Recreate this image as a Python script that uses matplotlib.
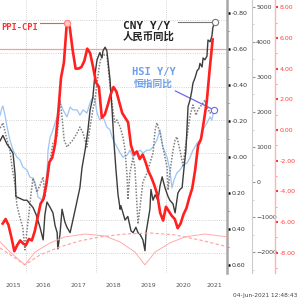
import numpy as np
import matplotlib.pyplot as plt
from matplotlib.ticker import FuncFormatter

plt.rcParams['font.family'] = ['DejaVu Sans', 'Noto Sans CJK SC']

# PPI-CPI spread (pct pts), monthly Apr 2015 - Apr 2021
ppi_dates = 2015 + 4 / 12 + np.arange(73) / 12
ppi_cpi = [-6.1, -5.8, -6.2, -7.0, -7.9, -7.5, -7.2, -7.4, -7.5,
           -7.1, -7.2, -6.6, -5.7, -4.8, -4.5, -3.5, -2.1, -1.8, -0.9, 1.0, 3.4,
           4.4, 7.0, 6.7, 5.2, 4.0, 4.0, 4.1, 4.5, 5.3, 5.0, 4.1, 3.1,
           2.8, 0.8, 1.0, 1.6, 2.3, 2.8, 2.5, 1.8, 1.1, 0.8, 0.5, -1.0,
           -1.6, -1.4, -1.9, -1.6, -2.1, -2.7, -3.1, -3.6, -4.2, -5.4, -5.9, -5.0,
           -5.3, -5.6, -5.8, -6.4, -6.1, -5.5, -5.1, -4.4, -3.8, -2.6, -1.0, -0.6,
           0.6, 1.9, 4.0, 5.9]

# CNY Y/Y (inverted axis)
cny_dates = [2015.26, 2015.34, 2015.46, 2015.54, 2015.63, 2015.69, 2015.71, 2015.83, 2015.94,
             2016.03, 2016.11, 2016.20, 2016.29, 2016.40, 2016.49, 2016.54, 2016.60, 2016.69,
             2016.77, 2016.83, 2016.89, 2016.91, 2016.97, 2017.03, 2017.11, 2017.17, 2017.26,
             2017.34, 2017.43, 2017.54, 2017.60, 2017.69, 2017.77, 2017.83, 2017.91, 2017.97,
             2018.03, 2018.11, 2018.17, 2018.20, 2018.26, 2018.31, 2018.34, 2018.40, 2018.43,
             2018.46, 2018.51, 2018.57, 2018.63, 2018.69, 2018.71, 2018.77, 2018.83, 2018.91,
             2019.00, 2019.06, 2019.14, 2019.20, 2019.26, 2019.34, 2019.40, 2019.43, 2019.49,
             2019.54, 2019.57, 2019.63, 2019.69, 2019.77, 2019.83, 2019.89, 2019.97, 2020.06,
             2020.11, 2020.20, 2020.26, 2020.34, 2020.40, 2020.46, 2020.51, 2020.57, 2020.63,
             2020.69, 2020.74, 2020.77, 2020.83, 2020.89, 2020.94, 2020.97, 2021.03, 2021.06,
             2021.11, 2021.17, 2021.20, 2021.26, 2021.31, 2021.34, 2021.40]
cny_yoy = [-0.09, -0.12, -0.07, -0.05, -0.02, 0.10, 0.22, 0.23, 0.24,
           0.24, 0.26, 0.28, 0.32, 0.39, 0.46, 0.32, 0.25, 0.28,
           0.31, 0.38, 0.42, 0.51, 0.43, 0.29, 0.36, 0.39, 0.42,
           0.35, 0.27, 0.17, 0.06, -0.04, -0.15, -0.26, -0.33, -0.46,
           -0.54, -0.58, -0.55, -0.59, -0.61, -0.59, -0.54, -0.43, -0.34,
           -0.26, -0.09, 0.07, 0.21, 0.29, 0.27, 0.31, 0.35, 0.33,
           0.41, 0.42, 0.39, 0.42, 0.43, 0.46, 0.52, 0.42, 0.35,
           0.29, 0.18, 0.24, 0.21, 0.24, 0.16, 0.11, 0.17, 0.22,
           0.24, 0.26, 0.31, 0.20, 0.18, 0.17, 0.07, -0.04, -0.28,
           -0.32, -0.37, -0.41, -0.44, -0.48, -0.49, -0.52, -0.50, -0.55,
           -0.54, -0.56, -0.65, -0.64, -0.67, -0.72, -0.75]

# HSI Y/Y (light blue)
hsi_dates = [2015.26, 2015.31, 2015.34, 2015.40, 2015.46, 2015.54, 2015.63, 2015.74, 2015.83, 2015.91,
             2016.03, 2016.11, 2016.20, 2016.26, 2016.31, 2016.34, 2016.46, 2016.54, 2016.60, 2016.63,
             2016.69, 2016.74, 2016.77, 2016.83, 2016.89, 2016.91, 2016.97,
             2017.03, 2017.06, 2017.17, 2017.26, 2017.34, 2017.46, 2017.54, 2017.63, 2017.74, 2017.83,
             2017.91, 2017.97,
             2018.03, 2018.11, 2018.20, 2018.31, 2018.40, 2018.49, 2018.60, 2018.69, 2018.77, 2018.89,
             2018.97,
             2019.06, 2019.17, 2019.26, 2019.34, 2019.46, 2019.54, 2019.63, 2019.74, 2019.83, 2019.91,
             2020.03, 2020.11, 2020.17, 2020.23, 2020.31, 2020.40, 2020.49, 2020.60, 2020.69, 2020.77,
             2020.89, 2020.97,
             2021.06, 2021.17, 2021.26, 2021.31, 2021.37]
hsi_yoy = [1910, 2110, 2170, 1910, 1570, 1200, 910, 710, 630, 430,
           340, 140, 110, -30, -230, -430, -510, -230, 260, 910,
           1290, 1400, 1490, 1690, 1860, 2060, 2260,
           2140, 2060, 1860, 2140, 2060, 2060, 1910, 2060, 1970, 2260,
           2430, 2340,
           1970, 1770, 1860, 1570, 1490, 1200, 1000, 830, 710, 770,
           910,
           710, 830, 910, 830, 910, 910, 1000, 1200, 1490, 1000,
           710, 340, -170, 60, 260, 340, 490, 540, 710, 910,
           1110, 1200,
           1490, 1690, 1860, 1770, 2060]

# grey dotted series
grey_dates = [2015.26, 2015.34, 2015.46, 2015.54, 2015.60, 2015.69, 2015.74, 2015.83, 2015.91, 2015.97,
              2016.03, 2016.09, 2016.14, 2016.20, 2016.26, 2016.31, 2016.40, 2016.49, 2016.54, 2016.63,
              2016.69, 2016.77, 2016.89, 2016.97,
              2017.03, 2017.09, 2017.17, 2017.26, 2017.34, 2017.46, 2017.54, 2017.63, 2017.74, 2017.83,
              2017.91, 2017.97,
              2018.03, 2018.09, 2018.14, 2018.23, 2018.31, 2018.37, 2018.43, 2018.49, 2018.54, 2018.60,
              2018.69, 2018.77, 2018.83, 2018.89, 2018.91, 2018.97,
              2019.06, 2019.11, 2019.20, 2019.26, 2019.34, 2019.46, 2019.54, 2019.63, 2019.69, 2019.74,
              2019.83, 2019.91,
              2020.03, 2020.06, 2020.11, 2020.20, 2020.26, 2020.31, 2020.40, 2020.49, 2020.54, 2020.60,
              2020.69, 2020.77, 2020.86, 2020.91, 2020.97,
              2021.06, 2021.11, 2021.17, 2021.26, 2021.31]
grey_vals = [1540, 1690, 1200, 910, 430, -90, -660, -1030, -1310, -1940,
             -1370, -860, -370, 110, -90, -290, -90, 140, -430, 200,
             630, 1110, 1290, 2340,
             1860, 1200, 1000, 1110, 1200, 1400, 1570, 1400, 1000, 1570,
             2060, 2340,
             2830, 3290, 3540, 3630, 3630, 3060, 2490, 2000, 1710, 1770,
             1570, 1290, 910, 140, -500, 260,
             710, 430, -1200, -700, 0, 260, 540, 830, 1490, 1690,
             1400, 1000,
             430, -230, 260, 910, 1200, 1290, 910, 430, 910, 1290,
             1910, 2200, 1910, 2060, 2140,
             2260, 2340, 2140, 1970, 2060]

# cycle arcs drawn at the bottom (on PPI-CPI scale)
arc1_dates = [2015.26, 2015.54, 2015.97, 2016.26, 2016.69, 2017.11, 2017.69, 2018.26,
              2018.69, 2019.11, 2019.40, 2019.69, 2020.11, 2020.54, 2021.11, 2021.77]
arc1_vals = [-7.30, -7.95, -8.79, -7.95, -7.36, -6.97, -6.78, -6.91,
             -7.30, -7.95, -8.79, -7.95, -7.36, -6.97, -6.78, -6.97]
arc2_dates = [2015.26, 2015.60, 2015.97, 2016.40, 2016.97, 2017.54, 2018.11, 2018.83,
              2019.54, 2020.26, 2020.97, 2021.77]
arc2_vals = [-7.69, -8.21, -8.79, -8.14, -7.62, -7.23, -6.97, -6.78,
             -6.71, -6.84, -7.17, -7.62]

years = ['2015', '2016', '2017', '2018', '2019', '2020', '2021']
year_pos = [2015.63, 2016.5, 2017.5, 2018.5, 2019.5, 2020.5, 2021.37]

fig = plt.figure(figsize=(3, 3), dpi=100)
ax = fig.add_axes([0, 27 / 300, 227 / 300, 273 / 300])
ax_hsi = ax.twinx()
ax_cny = ax.twinx()
ax_ppi = ax.twinx()

# base axis: grid + year labels
ax.set_xlim(2015.257, 2021.743)
ax.set_ylim(0, 8.2)
ax.set_yticks(np.arange(0.6, 8.0, 1.0))
ax.tick_params(axis='y', left=False, labelleft=False)
ax.grid(axis='y', color='#c4c4c4', lw=0.6, ls=':')
ax.set_xticks([2016, 2018, 2020], minor=True)
ax.grid(axis='x', which='minor', color='#c4c4c4', lw=0.6, ls=':')
ax.set_xticks(year_pos)
ax.set_xticklabels(years)
ax.tick_params(axis='x', which='both', length=0, labelsize=4.5, labelcolor='#555555', pad=7)
for s in ax.spines.values():
    s.set_visible(False)

for a in (ax_hsi, ax_cny, ax_ppi):
    for side in ('left', 'top', 'bottom'):
        a.spines[side].set_visible(False)

# CNY axis (inverted)
ax_cny.set_ylim(0.644, -0.872)
ax_cny.set_yticks(np.arange(-0.8, 0.61, 0.2))
ax_cny.set_yticks(np.arange(-0.8, 0.61, 0.1), minor=True)
ax_cny.yaxis.set_major_formatter(FuncFormatter(lambda v, p: f'{v:.2f}'))
ax_cny.spines['right'].set_color('#a8a8a8')
ax_cny.spines['right'].set_linewidth(1.8)
ax_cny.tick_params(axis='y', which='major', length=2, width=1.8, color='black',
                   labelsize=4.5, labelcolor='#333333', pad=1.5)
ax_cny.tick_params(axis='y', which='minor', length=1.5, width=0.6, color='#555555')

# HSI axis
ax_hsi.set_ylim(-2600, 5200)
ax_hsi.set_yticks(np.arange(-2000, 5001, 1000))
ax_hsi.set_yticks(np.arange(-2500, 5001, 500), minor=True)
ax_hsi.spines['right'].set_position(('axes', 252 / 227))
ax_hsi.spines['right'].set_color('#cccccc')
ax_hsi.spines['right'].set_linewidth(0.8)
ax_hsi.tick_params(axis='y', which='major', length=2, width=0.8, color='#999999',
                   labelsize=4.5, labelcolor='#444444', pad=1)
ax_hsi.tick_params(axis='y', which='minor', length=1.2, width=0.5, color='#bbbbbb')

# PPI-CPI axis
ax_ppi.set_ylim(-9.32, 8.47)
ax_ppi.set_yticks(np.arange(-8, 8.1, 2))
ax_ppi.set_yticks(np.arange(-9, 8.1, 1), minor=True)
ax_ppi.yaxis.set_major_formatter(FuncFormatter(lambda v, p: f'{v:.2f}'))
ax_ppi.spines['right'].set_position(('axes', 275 / 227))
ax_ppi.spines['right'].set_color('#ffb4b4')
ax_ppi.spines['right'].set_linewidth(1.0)
ax_ppi.tick_params(axis='y', which='major', length=2, width=1.5, color='#ff3030',
                   labelsize=4.5, labelcolor='#ff4040', pad=1.5)
ax_ppi.tick_params(axis='y', which='minor', length=1.2, width=0.6, color='#ff8080')

# series
ax_hsi.plot(hsi_dates, hsi_yoy, color='#9dc4f2', lw=0.9)
ax_hsi.plot(grey_dates, grey_vals, color='#808080', lw=1.1, ls=(0, (1, 1)))
ax_cny.axhline(-0.6, color='#ff9a9a', lw=0.9)
ax_cny.plot(cny_dates, cny_yoy, color='#3c3c3c', lw=1.0)
ax_ppi.plot(arc1_dates, arc1_vals, color='#ffaaaa', lw=0.7)
ax_ppi.plot(arc2_dates, arc2_vals, color='#ffa0a0', lw=0.8, ls=(0, (3, 2)))
ax_ppi.plot(ppi_dates, ppi_cpi, color='#ff2020', lw=1.9)

# label leaders and end markers
peak = int(np.argmax(ppi_cpi))
ax_ppi.plot([2016.39, ppi_dates[peak]], [ppi_cpi[peak]] * 2, color='#ff5050', lw=0.8)
ax_ppi.plot(ppi_dates[peak], ppi_cpi[peak], 'o', ms=4.5, mfc='#ffc8c8', mec='#ff8080', mew=0.8)

ax_cny.plot([2020.34, cny_dates[-1]], [cny_yoy[-1]] * 2, color='#777777', lw=0.8)
ax_cny.plot(cny_dates[-1], cny_yoy[-1], 'o', ms=4.5, mfc='white', mec='#777777', mew=0.8)

ax_hsi.plot([2020.27, hsi_dates[-1]], [2600, hsi_yoy[-1]], color='#6a6af0', lw=0.9)
ax_hsi.plot(hsi_dates[-1], hsi_yoy[-1], 'o', ms=4.5, mfc='white', mec='#6a6af0', mew=0.8)

# texts
mono = dict(family='DejaVu Sans Mono', weight='bold')
fig.text(1 / 300, 1 - 28 / 300, 'PPI-CPI', ha='left', va='center', fontsize=6.3,
         color='#ff3030', **mono)
fig.text(123 / 300, 1 - 26 / 300, 'CNY Y/Y', ha='left', va='center', fontsize=8,
         color='#222222', **mono)
fig.text(123 / 300, 1 - 37 / 300, '人民币同比', ha='left', va='center', fontsize=7.5,
         color='#222222', family='Noto Sans CJK SC', weight='bold')
fig.text(132 / 300, 1 - 72 / 300, 'HSI Y/Y', ha='left', va='center', fontsize=7.5,
         color='#6f9fe8', **mono)
fig.text(134 / 300, 1 - 84 / 300, '恒指同比', ha='left', va='center', fontsize=7,
         color='#6f9fe8', family='Noto Sans CJK SC', weight='bold')
fig.text(233 / 300, 1 - 296 / 300, '04-Jun-2021 12:48:43', ha='left', va='center',
         fontsize=4.2, color='#444444')

fig.savefig('out.png', dpi=100)
